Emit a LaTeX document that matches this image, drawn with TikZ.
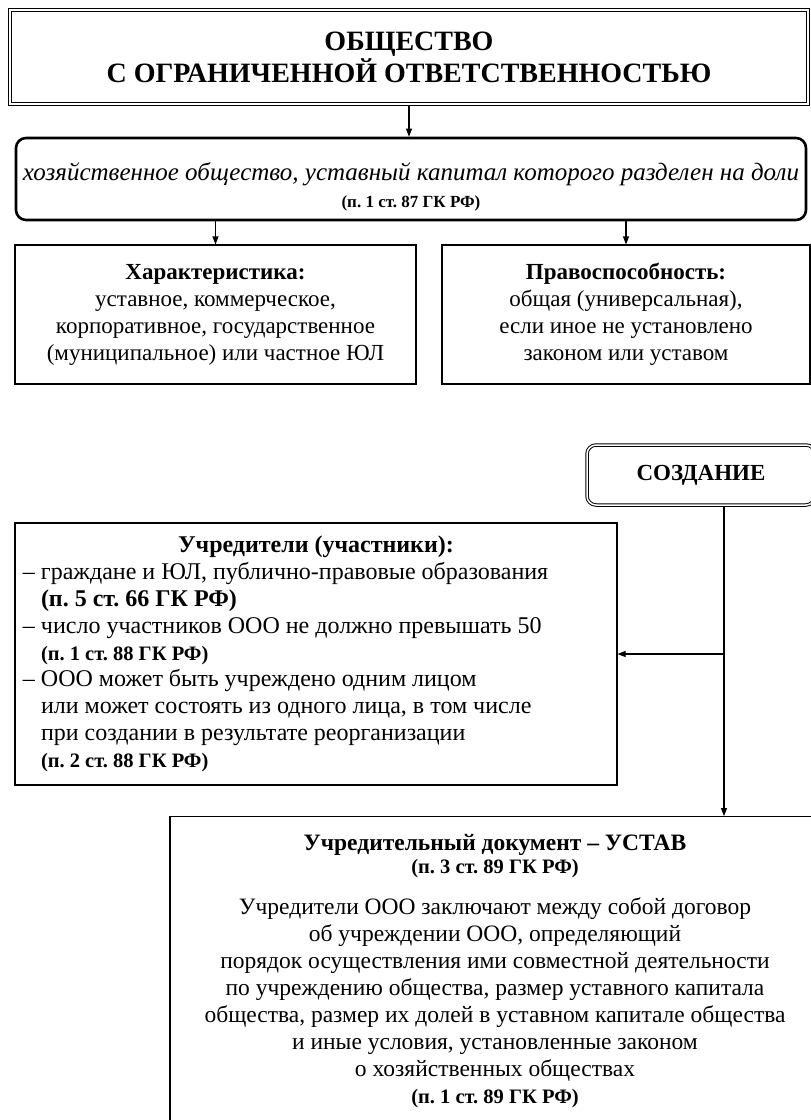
\documentclass[tikz,border=0pt]{standalone}
\usepackage{fontspec}
\setmainfont{Liberation Serif}
\usetikzlibrary{arrows.meta}
\newcommand\statref[1]{{\fontsize{20.5}{23}\selectfont\bfseries #1}}
\frenchspacing
\begin{document}
\begin{tikzpicture}[x=1pt,y=-1pt,
  box/.style={draw,line width=1.1pt,inner sep=0pt,align=center,font=\fontsize{23}{27}\selectfont},
  arr/.style={line width=1.1pt,-{Triangle[length=8pt,width=6pt]}}]
\useasboundingbox (0,0) rectangle (811,1120);
\node[box,double,line width=1.4pt,double distance=2pt,minimum width=798pt,minimum height=94pt,font=\fontsize{28}{32}\selectfont\bfseries] (ooo) at (409,57) {ОБЩЕСТВО\\С ОГРАНИЧЕННОЙ ОТВЕТСТВЕННОСТЬЮ};
\node[box,line width=2.6pt,rounded corners=10pt,minimum width=790pt,minimum height=82pt] (sub) at (411,179) {\rule{0pt}{34pt}{\fontsize{25}{27}\selectfont\itshape хозяйственное общество, уставный капитал которого разделен на доли}\\{\fontsize{17}{20}\selectfont\bfseries (п. 1 ст. 87 ГК РФ)}};
\node[box,minimum width=401pt,minimum height=139pt] (har) at (215.5,314.5) {\textbf{Характеристика:}\\уставное, коммерческое,\\корпоративное, государственное\\(муниципальное) или частное ЮЛ};
\node[box,minimum width=368pt,minimum height=139pt] (pra) at (626,314.5) {\textbf{Правоспособность:}\\общая (универсальная),\\если иное не установлено\\законом или уставом};
\node[box,double,line width=1pt,double distance=1.5pt,rounded corners=9pt,minimum width=228pt,minimum height=60pt,font=\fontsize{23}{27}\selectfont\bfseries] (sozd) at (701,475) {СОЗДАНИЕ};
\node[box,align=flush left,text width=586pt,minimum width=602pt,minimum height=262pt,font=\fontsize{24}{26.8}\selectfont] (uchr) at (316,654) {\centering\textbf{Учредители (участники):}\par\raggedright
 – граждане и ЮЛ, публично-правовые образования\\
 \phantom{– }\textbf{(п. 5 ст. 66 ГК РФ)}\\
 – число участников ООО не должно превышать 50\\
 \phantom{– }\statref{(п. 1 ст. 88 ГК РФ)}\\
 – ООО может быть учреждено одним лицом\\
 \phantom{– }или может состоять из одного лица, в том числе\\
 \phantom{– }при создании в результате реорганизации\\
 \phantom{– }\statref{(п. 2 ст. 88 ГК РФ)}};
\node[box,minimum width=650pt,minimum height=310pt,anchor=north,font=\fontsize{23.5}{27}\selectfont] (ustav) at (495,816) {\textbf{Учредительный документ – УСТАВ}\\[-4pt]\statref{(п. 3 ст. 89 ГК РФ)}\\[14pt]
 Учредители ООО заключают между собой договор\\
 об учреждении ООО, определяющий\\
 порядок осуществления ими совместной деятельности\\
 по учреждению общества, размер уставного капитала\\
 общества, размер их долей в уставном капитале общества\\
 и иные условия, установленные законом\\
 о хозяйственных обществах\\
 \statref{(п. 1 ст. 89 ГК РФ)}};
\coordinate (sdown) at ([xshift=23pt]sozd.south);
\draw[arr] (ooo.south) -- (ooo.south |- sub.north);
\draw[arr] (sub.south -| har.north) -- (har.north);
\draw[arr] (sub.south -| pra.north) -- (pra.north);
\draw[arr] (sdown) -- (sdown |- ustav.north);
\draw[arr] (sdown |- uchr.east) -- (uchr.east);
\end{tikzpicture}
\end{document}
